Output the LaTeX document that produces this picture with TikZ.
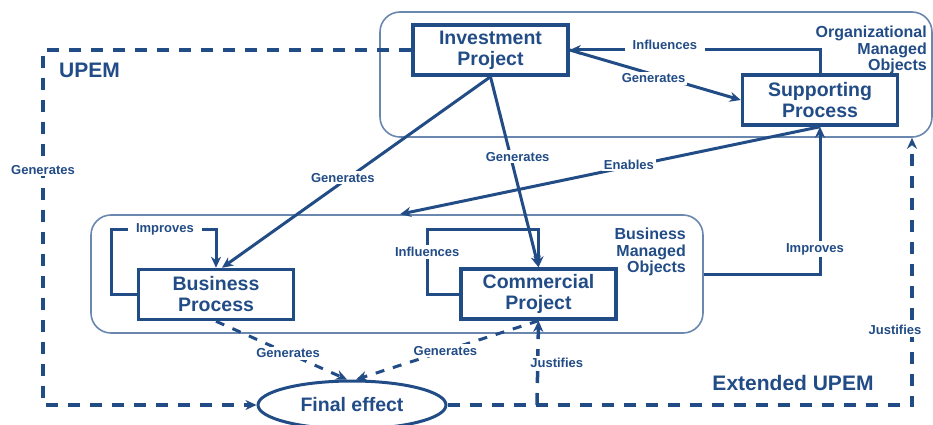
\documentclass[tikz,border=0pt]{standalone}
\usepackage{fontspec}
\setmainfont{Liberation Sans}
\usetikzlibrary{arrows.meta,shapes.geometric,calc}
\definecolor{mainc}{RGB}{34,76,134}
\definecolor{lightc}{RGB}{105,135,175}
\begin{document}
\begin{tikzpicture}[x=1pt,y=-1pt,
  box/.style={draw=mainc,line width=3.5pt,fill=white,minimum width=155pt,minimum height=50pt,inner sep=0pt,align=center,text=mainc,font=\fontsize{19.5}{21}\selectfont\bfseries},
  grp/.style={draw=lightc,line width=1.6pt,rounded corners=20pt,inner sep=0pt},
  lab/.style={fill=white,text=mainc,inner sep=2pt,font=\fontsize{13}{14}\selectfont\bfseries},
  conn/.style={draw=mainc,line width=3pt,-{Stealth[length=11pt,width=10pt,inset=3.5pt]}},
  dconn/.style={conn,dash pattern=on 9pt off 9pt},
  frm/.style={draw=mainc,line width=3.5pt,dash pattern=on 12pt off 10pt},
  frmarrow/.style={frm,-{Stealth[length=11pt,width=10pt,inset=3.5pt]}},
  title/.style={text=mainc,inner sep=0pt,font=\fontsize{21}{24}\selectfont\bfseries},
  grptext/.style={text=mainc,inner sep=0pt,align=right,font=\fontsize{16}{16.5}\selectfont\bfseries},
]
\useasboundingbox (0,0) rectangle (933,425);

% groups
\node[grp,minimum width=552pt,minimum height=125pt] (omo) at (656,74.5) {};
\node[grp,minimum width=612pt,minimum height=118pt] (bmo) at (397,274) {};
\node[grptext,anchor=north east] (omotext) at (927,26) {Organizational\\Managed\\Objects};
\node[grptext,anchor=north east] (bmotext) at (686,228) {Business\\Managed\\Objects};

% titles
\node[title,anchor=west] (upem) at (59,70) {UPEM};
\node[title] (eupem) at (793,383) {Extended UPEM};

% boxes
\node[box] (ip) at (490.5,50) {Investment\\Project};
\node[box] (sp) at (820,100) {Supporting\\Process};
\node[box] (bp) at (216,294.5) {Business\\Process};
\node[box] (cp) at (538.5,294) {Commercial\\Project};
\node[ellipse,draw=mainc,line width=3pt,fill=white,minimum width=188pt,minimum height=48pt,inner sep=0pt,text=mainc,font=\fontsize{19.5}{21}\selectfont\bfseries] (fe) at (352,405) {Final effect};

% frame coordinates
\coordinate (ul) at (43,50);
\coordinate (ll) at (43,405);
\coordinate (j1) at (537,405);
\coordinate (j2) at (912,405);

% UPEM frame
\draw[frmarrow] (ip.west) -- (ul) -- node[lab,pos=0.337] {Generates} (ll) -- (fe.west);
% Extended UPEM frame
\draw[frmarrow] (fe.east) -- (j2) -- node[lab,pos=0.28,xshift=-17pt] {Justifies} (omo.south -| j2);
\draw[frmarrow] (j1) -- node[lab,pos=0.5,xshift=19pt] {Justifies} (cp.south);

% connectors
\draw[conn] (sp.north) |- node[lab,pos=0.81,yshift=5pt,inner xsep=8pt] {Influences} (ip.east);
\draw[conn] (ip.east) -- node[lab,pos=0.49,yshift=-4pt] {Generates} (sp.west);
\draw[conn] (ip.south) -- node[lab,pos=0.55,yshift=4pt] {Generates} ([xshift=6pt]bp.north);
\draw[conn] (ip.south) -- node[lab,pos=0.42,xshift=7pt] {Generates} (cp.north);
\draw[conn] (sp.south) -- node[lab,pos=0.455,yshift=2pt] {Enables} ([xshift=3pt]bmo.north);
\draw[conn] (bmo.east) -| node[lab,pos=0.585,xshift=-5pt] {Improves} (sp.south);
\draw[conn] (bp.west) -- ++(-25,0) |- node[lab,pos=0.755,inner xsep=8pt] {Improves} ([yshift=38pt]bp.north) -- (bp.north);
\draw[conn] (cp.west) -- ++(-32,0) |- node[lab,pos=0.325] {Influences} ([yshift=38pt]cp.north) -- (cp.north);
\draw[dconn] (bp.south) -- node[lab,pos=0.55] {Generates} ([xshift=-5pt]fe.north);
\draw[dconn] (cp.south) -- node[lab,pos=0.51] {Generates} ([xshift=4pt]fe.north);
\end{tikzpicture}
\end{document}
